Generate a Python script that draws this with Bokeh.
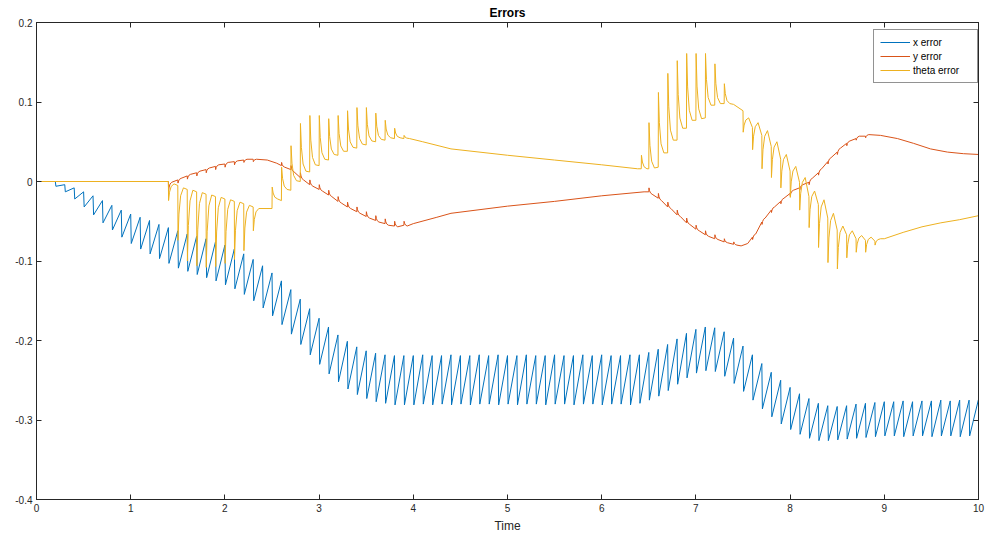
from bokeh.plotting import figure
from bokeh.models import LinearAxis, FixedTicker, Legend, LegendItem, Range1d
from bokeh.embed import file_html
from bokeh.resources import INLINE

# ---------------- data ----------------
x_ticks = [0, 1, 2, 3, 4, 5, 6, 7, 8, 9, 10]
x_tick_labels = ["0", "1", "2", "3", "4", "5", "6", "7", "8", "9", "10"]
y_ticks = [-0.4, -0.3, -0.2, -0.1, 0.0, 0.1, 0.2]
y_tick_labels = ["-0.4", "-0.3", "-0.2", "-0.1", "0", "0.1", "0.2"]

# x error: sawtooth, one tooth every 0.1 s (peak value, then value after the drop)
x_start_t = [0.0, 0.15]
x_start_v = [0.0, 0.0]
x_tooth_t = [0.2, 0.3, 0.4, 0.5, 0.6, 0.7, 0.8, 0.9, 1.0,
             1.1, 1.2, 1.3, 1.4, 1.5, 1.6, 1.7, 1.8, 1.9, 2.0,
             2.1, 2.2, 2.3, 2.4, 2.5, 2.6, 2.7, 2.8, 2.9, 3.0,
             3.1, 3.2, 3.3, 3.4, 3.5, 3.6, 3.7, 3.8, 3.9, 4.0,
             4.1, 4.2, 4.3, 4.4, 4.5, 4.6, 4.7, 4.8, 4.9, 5.0,
             5.1, 5.2, 5.3, 5.4, 5.5, 5.6, 5.7, 5.8, 5.9, 6.0,
             6.1, 6.2, 6.3, 6.4, 6.5, 6.6, 6.7, 6.8, 6.9, 7.0,
             7.1, 7.2, 7.3, 7.4, 7.5, 7.6, 7.7, 7.8, 7.9, 8.0,
             8.1, 8.2, 8.3, 8.4, 8.5, 8.6, 8.7, 8.8, 8.9, 9.0,
             9.1, 9.2, 9.3, 9.4, 9.5, 9.6, 9.7, 9.8, 9.9, 10.0]
x_peak = [0.000, -0.004, -0.008, -0.013, -0.018, -0.024, -0.030, -0.036, -0.041,
          -0.045, -0.049, -0.054, -0.058, -0.062, -0.066, -0.069, -0.072, -0.076, -0.080,
          -0.085, -0.091, -0.098, -0.106, -0.115, -0.125, -0.136, -0.148, -0.160, -0.172,
          -0.183, -0.193, -0.201, -0.208, -0.213, -0.216, -0.218, -0.219, -0.219, -0.219,
          -0.218, -0.219, -0.219, -0.218, -0.219, -0.219, -0.218, -0.219, -0.218, -0.219,
          -0.219, -0.218, -0.219, -0.219, -0.218, -0.219, -0.219, -0.218, -0.219, -0.218,
          -0.219, -0.219, -0.218, -0.218, -0.215, -0.211, -0.205, -0.198, -0.191, -0.186,
          -0.183, -0.184, -0.189, -0.197, -0.207, -0.218, -0.229, -0.240, -0.250, -0.259,
          -0.267, -0.273, -0.279, -0.282, -0.283, -0.282, -0.280, -0.279, -0.278, -0.277,
          -0.277, -0.276, -0.277, -0.276, -0.276, -0.275, -0.276, -0.275, -0.275, -0.274]
x_trough = [-0.006, -0.013, -0.022, -0.032, -0.042, -0.052, -0.061, -0.070, -0.078,
            -0.085, -0.091, -0.097, -0.103, -0.109, -0.113, -0.117, -0.121, -0.125, -0.130,
            -0.135, -0.142, -0.150, -0.159, -0.169, -0.180, -0.192, -0.205, -0.218, -0.230,
            -0.242, -0.252, -0.261, -0.268, -0.273, -0.277, -0.279, -0.281, -0.281, -0.281,
            -0.280, -0.281, -0.280, -0.281, -0.280, -0.281, -0.280, -0.280, -0.281, -0.280,
            -0.281, -0.280, -0.280, -0.281, -0.280, -0.280, -0.281, -0.280, -0.280, -0.281,
            -0.280, -0.280, -0.281, -0.279, -0.275, -0.270, -0.263, -0.255, -0.247, -0.241,
            -0.238, -0.239, -0.245, -0.254, -0.264, -0.275, -0.286, -0.296, -0.305, -0.312,
            -0.318, -0.323, -0.326, -0.326, -0.325, -0.324, -0.323, -0.322, -0.321, -0.320,
            -0.320, -0.321, -0.320, -0.320, -0.321, -0.320, -0.320, -0.321, -0.320, -0.320]

# y error: smooth keypoints + small bumps (value before, bump extreme, value after)
y_anchor_t = [0.0, 1.398, 2.45, 2.55, 4.00, 4.25, 4.40, 5.00, 5.50, 6.00, 6.45,
              7.48, 7.55, 8.96, 9.14, 9.31, 9.49, 9.67, 9.84, 10.0]
y_anchor_v = [0.0, 0.0, 0.027, 0.023, -0.053, -0.045, -0.040, -0.031, -0.025, -0.018, -0.013,
              -0.081, -0.078, 0.058, 0.054, 0.048, 0.041, 0.037, 0.035, 0.034]
y_bump_t = [1.40, 1.50, 1.60, 1.70, 1.80, 1.90, 2.00, 2.10, 2.20, 2.30,
            2.60, 2.70, 2.80, 2.90, 3.00, 3.10, 3.20, 3.30, 3.40, 3.50, 3.60, 3.70, 3.80, 3.90,
            6.50, 6.60, 6.70, 6.80, 6.90, 7.00, 7.10, 7.20, 7.30, 7.40,
            7.60, 7.70, 7.80, 7.90, 8.00, 8.10, 8.20, 8.30, 8.40, 8.50, 8.60, 8.70, 8.80]
y_bump_pre = [0.000, 0.002, 0.007, 0.011, 0.015, 0.019, 0.022, 0.025, 0.027, 0.028,
              0.020, 0.015, 0.005, -0.004, -0.010, -0.017, -0.025, -0.032, -0.038, -0.044, -0.049, -0.053, -0.056, -0.055,
              -0.013, -0.021, -0.032, -0.042, -0.052, -0.060, -0.067, -0.072, -0.076, -0.079,
              -0.070, -0.051, -0.036, -0.025, -0.015, -0.008, -0.001, 0.011, 0.025, 0.037, 0.048, 0.054, 0.057]
y_bump_ext = [-0.012, -0.002, 0.003, 0.007, 0.011, 0.015, 0.018, 0.021, 0.024, 0.025,
              0.024, 0.020, 0.011, 0.002, -0.004, -0.011, -0.019, -0.026, -0.032, -0.038, -0.043, -0.047, -0.050, -0.050,
              -0.008, -0.015, -0.026, -0.036, -0.046, -0.055, -0.062, -0.067, -0.072, -0.076,
              -0.073, -0.054, -0.039, -0.028, -0.018, -0.011, -0.004, 0.008, 0.022, 0.034, 0.045, 0.052, 0.055]
y_bump_post = [-0.001, 0.004, 0.009, 0.013, 0.017, 0.021, 0.024, 0.026, 0.028, 0.028,
               0.018, 0.012, 0.002, -0.006, -0.012, -0.019, -0.027, -0.034, -0.040, -0.046, -0.051, -0.055, -0.057, -0.056,
               -0.016, -0.024, -0.034, -0.044, -0.054, -0.062, -0.069, -0.073, -0.077, -0.080,
               -0.066, -0.046, -0.032, -0.021, -0.011, -0.004, 0.004, 0.016, 0.030, 0.042, 0.051, 0.057, 0.059]

# theta error: keypoints + spikes (value before, spike extreme, value it settles to)
th_anchor_t = [0.0, 1.398, 4.10, 4.40, 5.00, 5.50, 6.00, 6.38, 7.40,
               9.00, 9.20, 9.40, 9.60, 9.80, 10.0]
th_anchor_v = [0.0, 0.0, 0.050, 0.041, 0.033, 0.027, 0.021, 0.016, 0.097,
               -0.072, -0.064, -0.057, -0.052, -0.048, -0.043]
th_spike_t = [1.40, 1.50, 1.60, 1.70, 1.80, 1.90, 2.00, 2.10, 2.20, 2.30,
              2.50, 2.60, 2.70, 2.80, 2.90, 3.00, 3.10, 3.20, 3.30, 3.40, 3.50, 3.60, 3.70, 3.80, 3.90,
              6.42, 6.50, 6.60, 6.70, 6.80, 6.90, 7.00, 7.10, 7.20, 7.30,
              7.50, 7.60, 7.70, 7.80, 7.90, 8.00, 8.10, 8.20, 8.30, 8.40, 8.50, 8.60, 8.70, 8.80, 8.90]
th_spike_pre = [0.000, -0.005, -0.010, -0.013, -0.016, -0.019, -0.022, -0.025, -0.028, -0.032,
                -0.034, -0.024, -0.011, 0.000, 0.012, 0.020, 0.027, 0.033, 0.038, 0.042, 0.046, 0.050, 0.052, 0.054, 0.054,
                0.016, 0.016, 0.018, 0.036, 0.052, 0.067, 0.077, 0.080, 0.096, 0.098,
                0.089, 0.068, 0.058, 0.044, 0.028, 0.013, -0.001, -0.019, -0.029, -0.046, -0.061, -0.067, -0.072, -0.074, -0.075]
th_spike_ext = [-0.024, -0.074, -0.100, -0.106, -0.108, -0.107, -0.103, -0.098, -0.087, -0.062,
                -0.007, 0.018, 0.045, 0.073, 0.083, 0.083, 0.079, 0.083, 0.089, 0.093, 0.093, 0.086, 0.077, 0.067, 0.058,
                0.033, 0.074, 0.112, 0.136, 0.152, 0.161, 0.161, 0.161, 0.148, 0.123,
                0.062, 0.040, 0.016, 0.005, -0.008, -0.020, -0.036, -0.058, -0.083, -0.102, -0.110, -0.096, -0.089, -0.089, -0.080]
th_spike_post = [-0.003, -0.008, -0.011, -0.014, -0.017, -0.020, -0.023, -0.026, -0.030, -0.034,
                 -0.022, -0.010, 0.001, 0.013, 0.021, 0.028, 0.034, 0.038, 0.043, 0.047, 0.051, 0.053, 0.055, 0.055, 0.054,
                 0.016, 0.017, 0.036, 0.052, 0.067, 0.077, 0.079, 0.096, 0.098, 0.098,
                 0.080, 0.074, 0.064, 0.050, 0.034, 0.019, 0.005, -0.012, -0.023, -0.040, -0.056, -0.062, -0.068, -0.070, -0.072]

series_names = ["x error", "y error", "theta error"]
series_colors = ["#0072BD", "#D95319", "#EDB120"]

# ---------------- build polylines from the lists ----------------
def saw(start_t, start_v, tt, peak, trough, drop=0.006):
    pts = list(zip(start_t, start_v))
    for t, a, b in zip(tt, peak, trough):
        pts += [(t, a), (t + drop, b)]
    pts.sort(key=lambda p: p[0])
    return [p[0] for p in pts], [p[1] for p in pts]


def spiky(anchor_t, anchor_v, st, pre, ext, post, dts, fracs):
    pts = list(zip(anchor_t, anchor_v))
    for t, a, e, s in zip(st, pre, ext, post):
        pts.append((t, a))
        for dt, f in zip(dts, fracs):
            pts.append((t + dt, e + f * (s - e)))
    pts.sort(key=lambda p: p[0])
    return [p[0] for p in pts], [p[1] for p in pts]


xt, xv = saw(x_start_t, x_start_v, x_tooth_t, x_peak, x_trough)
yt, yv = spiky(y_anchor_t, y_anchor_v, y_bump_t, y_bump_pre, y_bump_ext, y_bump_post,
               [0.002, 0.008, 0.018, 0.035], [0.0, 0.45, 0.8, 1.0])
tt, tv = spiky(th_anchor_t, th_anchor_v, th_spike_t, th_spike_pre, th_spike_ext, th_spike_post,
               [0.002, 0.012, 0.03, 0.06], [0.0, 0.5, 0.85, 1.0])

# ---------------- figure ----------------
FONT = "Liberation Sans"
AX = "#262626"

p = figure(width=985, height=535, output_backend="svg", toolbar_location=None,
           x_range=Range1d(0, 10), y_range=Range1d(-0.4, 0.2),
           min_border_left=36, min_border_right=7, min_border_top=22, min_border_bottom=36,
           background_fill_color="white", border_fill_color="white")
p.grid.visible = False
p.outline_line_color = AX
p.outline_line_width = 1

p.title.text = "Errors"
p.title.align = "center"
p.title.text_font = FONT
p.title.text_font_size = "12px"
p.title.text_font_style = "bold"
p.title.text_color = "#000000"
p.title.offset = 0
p.title.standoff = 6

def style_axis(ax):
    ax.axis_line_color = AX
    ax.major_tick_line_color = AX
    ax.major_tick_in = 5
    ax.major_tick_out = 0
    ax.minor_tick_line_color = None
    ax.major_label_text_font = FONT
    ax.major_label_text_font_size = "10px"
    ax.major_label_text_color = AX
    ax.major_label_standoff = 4

p.xaxis.ticker = FixedTicker(ticks=x_ticks)
p.xaxis.major_label_overrides = {t: s for t, s in zip(x_ticks, x_tick_labels)}
p.yaxis.ticker = FixedTicker(ticks=y_ticks)
p.yaxis.major_label_overrides = {t: s for t, s in zip(y_ticks, y_tick_labels)}
style_axis(p.xaxis[0])
style_axis(p.yaxis[0])
p.xaxis.axis_label = "Time"
p.xaxis.axis_label_text_font = FONT
p.xaxis.axis_label_text_font_size = "12px"
p.xaxis.axis_label_text_font_style = "normal"
p.xaxis.axis_label_text_color = AX
p.xaxis.axis_label_standoff = 4

# box-side axes: ticks only, no labels
top = LinearAxis(ticker=FixedTicker(ticks=x_ticks))
style_axis(top)
top.major_label_text_font_size = "1px"
top.major_label_overrides = {t: "" for t in x_ticks}
top.major_label_standoff = 0
p.add_layout(top, "above")
right = LinearAxis(ticker=FixedTicker(ticks=y_ticks))
style_axis(right)
right.major_label_text_font_size = "1px"
right.major_label_overrides = {t: "" for t in y_ticks}
right.major_label_standoff = 0
p.add_layout(right, "right")

r_x = p.line(xt, xv, line_color=series_colors[0], line_width=1)
r_y = p.line(yt, yv, line_color=series_colors[1], line_width=1)
r_t = p.line(tt, tv, line_color=series_colors[2], line_width=1)

legend = Legend(items=[LegendItem(label=series_names[0], renderers=[r_x]),
                       LegendItem(label=series_names[1], renderers=[r_y]),
                       LegendItem(label=series_names[2], renderers=[r_t])],
                location="top_right")
legend.margin = 0
legend.location = (837, 416)
legend.label_text_font = FONT
legend.label_text_font_size = "10px"
legend.label_text_color = "#000000"
legend.glyph_width = 30
legend.glyph_height = 12
legend.label_height = 12
legend.label_width = 58
legend.spacing = 2
legend.padding = 6
legend.label_standoff = 3
legend.border_line_color = AX
legend.border_line_width = 1
legend.background_fill_color = "white"
legend.background_fill_alpha = 1
p.add_layout(legend, "center")

open("out.html", "w").write(file_html(p, INLINE))
